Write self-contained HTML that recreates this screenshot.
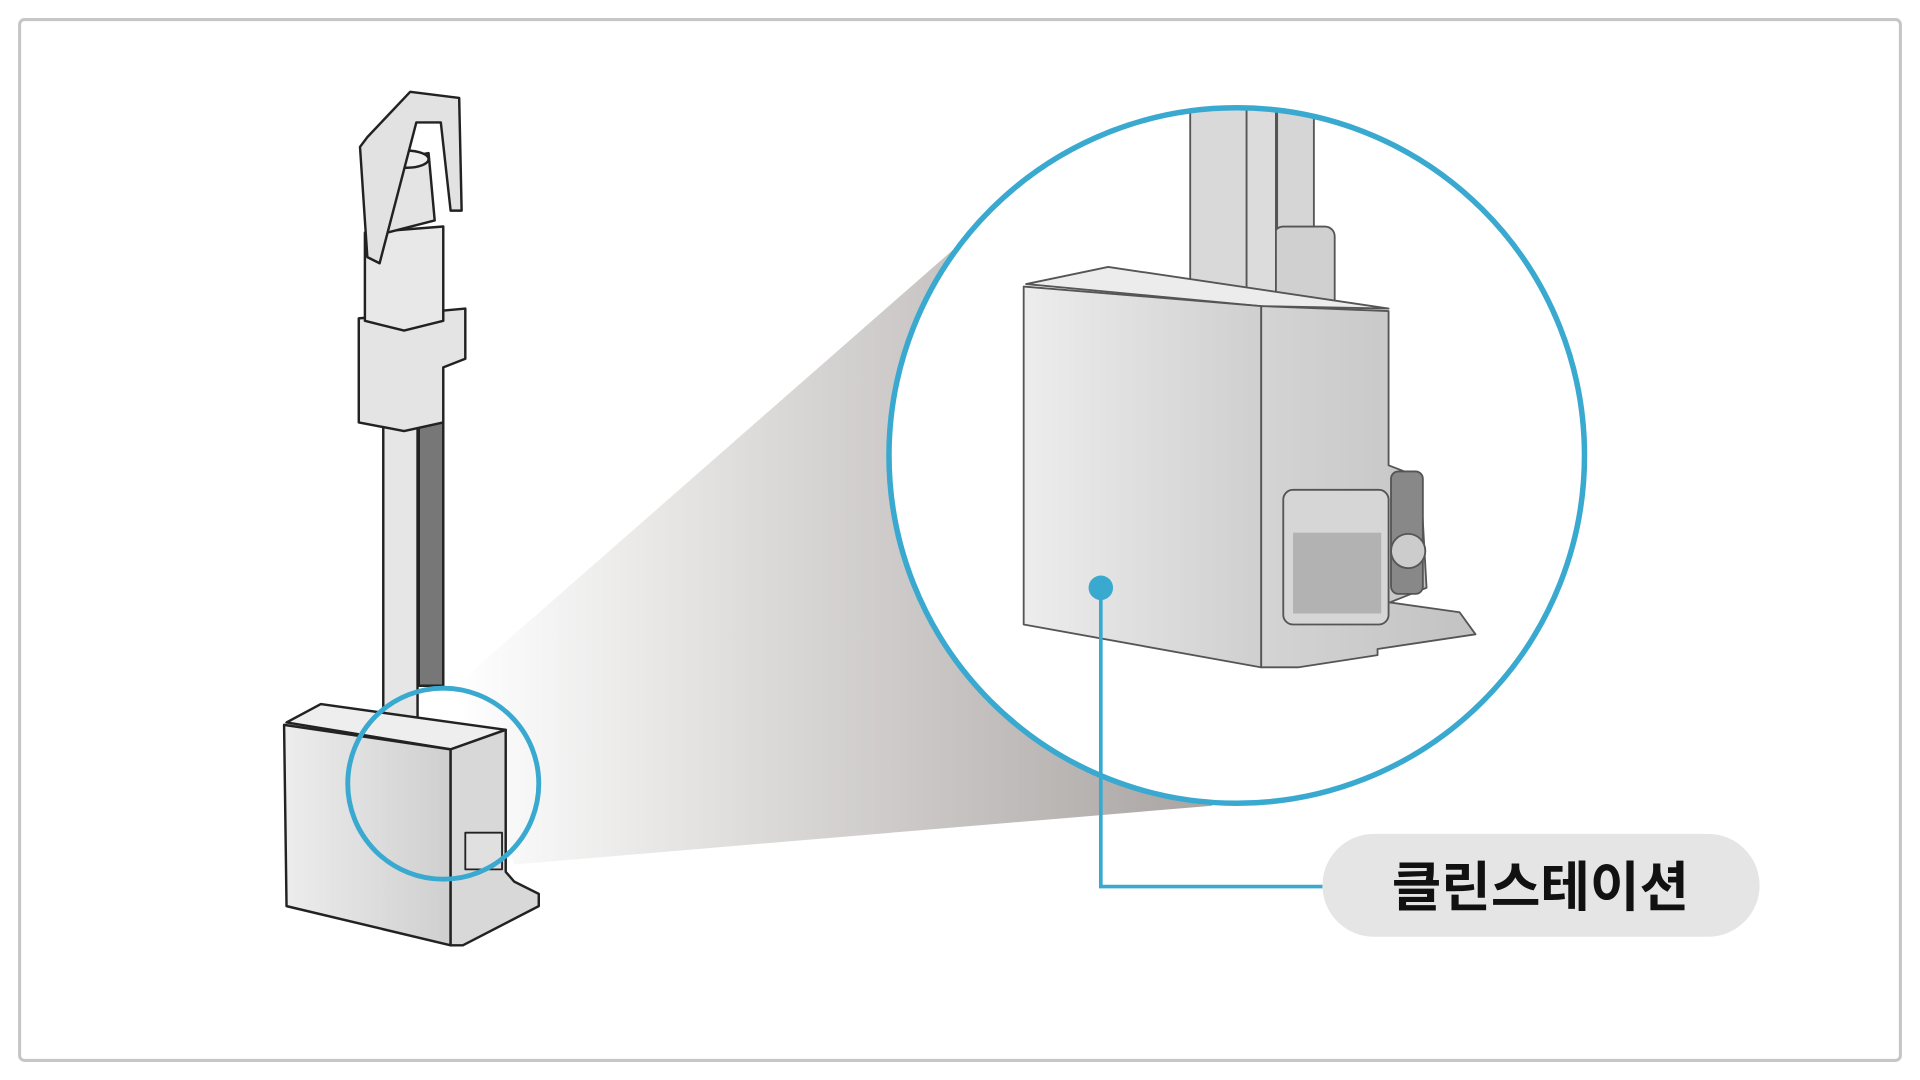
<!DOCTYPE html>
<html><head><meta charset="utf-8"><style>html,body{margin:0;padding:0;background:#fff}svg{display:block}</style></head>
<body>
<svg width="1920" height="1080" viewBox="0 0 1568 882" xmlns="http://www.w3.org/2000/svg">
<defs>
<linearGradient id="cone" x1="0" y1="0" x2="1" y2="0">
<stop offset="0" stop-color="#ffffff"/><stop offset="1" stop-color="#a9a4a2"/>
</linearGradient>
<linearGradient id="face" x1="0" y1="0" x2="1" y2="0">
<stop offset="0" stop-color="#ededed"/><stop offset="1" stop-color="#cfcfcf"/>
</linearGradient>
<linearGradient id="side" x1="0" y1="0" x2="1" y2="0">
<stop offset="0" stop-color="#d4d4d4"/><stop offset="1" stop-color="#c2c2c2"/>
</linearGradient>
<clipPath id="bc"><circle cx="1010" cy="372" r="284"/></clipPath>
</defs>
<rect x="16" y="16" width="1536" height="850" rx="4" fill="#fff" stroke="#c6c6c6" stroke-width="2.5"/>
<polygon points="372,560 800,185 990,658 420,706" fill="url(#cone)"/>
<g stroke="#222" stroke-width="2" stroke-linejoin="round">
<rect x="342" y="335" width="20" height="225" fill="#777"/>
<rect x="313" y="345" width="28" height="255" fill="#e6e6e6"/>
<polygon points="293,260 380,252 380,293 362,300 362,345 330,352 293,345" fill="#e4e4e4"/>
<polygon points="298,190 362,185 362,262 330,270 298,262" fill="#e8e8e8"/>
<polygon points="312,132 350,125 355,180 316,190" fill="#e4e4e4"/>
<ellipse cx="332" cy="130" rx="18" ry="7" fill="#eee"/>
<polygon points="300,112 335,75 375,80 377,172 368,172 360,100 340,100 310,215 300,210 294,120" fill="#e2e2e2"/>
<polygon points="234,590 262,575 413,596 368,612" fill="#eee"/>
<polygon points="232,592 368,612 368,772 234,740" fill="url(#face)"/>
<polygon points="368,612 413,596 413,712 420,720 440,730 440,740 378,772 368,772" fill="#d8d8d8"/>
<rect x="380" y="680" width="30" height="30" fill="#e0e0e0" stroke-width="1.5"/>
</g>
<circle cx="362" cy="640" r="78" fill="none" stroke="#39a9d0" stroke-width="4"/>
<circle cx="1010" cy="372" r="284" fill="#fff"/>
<g clip-path="url(#bc)" stroke="#555" stroke-width="1.5" stroke-linejoin="round">
<rect x="1043" y="60" width="30" height="200" fill="#d6d6d6"/>
<rect x="1040" y="185" width="50" height="70" rx="8" fill="#d0d0d0"/>
<rect x="1018" y="60" width="24" height="200" fill="#dcdcdc"/>
<rect x="972" y="60" width="46" height="195" fill="#d9d9d9"/>
<polygon points="838,232 905,218 1134,252 1030,250" fill="#ececec"/>
<polygon points="836,234 1030,250 1030,545 836,510" fill="url(#face)"/>
<polygon points="1030,250 1134,254 1134,380 1160,390 1165,480 1135,492 1192,500 1205,518 1125,530 1125,535 1060,545 1030,545" fill="url(#side)"/>
<rect x="1048" y="400" width="86" height="110" rx="8" fill="#d6d6d6"/>
<rect x="1056" y="435" width="72" height="66" fill="#999" stroke="none" opacity="0.6"/>
<rect x="1136" y="385" width="26" height="100" rx="6" fill="#888"/>
<circle cx="1150" cy="450" r="14" fill="#ccc"/>
</g>
<circle cx="1010" cy="372" r="284" fill="none" stroke="#39a9d0" stroke-width="4.5"/>
<circle cx="899" cy="480" r="10" fill="#39a9d0"/>
<polyline points="899,480 899,724 1080,724" fill="none" stroke="#39a9d0" stroke-width="3"/>
<rect x="1080" y="681" width="357" height="84" rx="42" fill="#e5e5e5"/>
<text x="1258" y="740" text-anchor="middle" font-family="Liberation Sans, Noto Sans CJK KR, sans-serif" font-weight="bold" font-size="44" fill="#111">클린스테이션</text>
</svg>
</body></html>
